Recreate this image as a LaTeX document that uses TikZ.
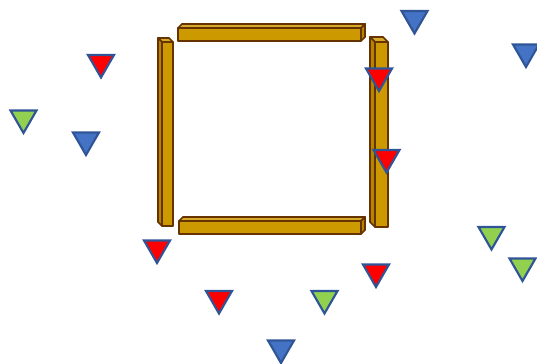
\documentclass[tikz,border=0pt]{standalone}
\usetikzlibrary{shapes.geometric}

\definecolor{barfill}{RGB}{204,153,0}
\definecolor{bartop}{RGB}{214,170,40}
\definecolor{barside}{RGB}{180,134,0}
\definecolor{barline}{RGB}{102,51,0}
\definecolor{triline}{RGB}{47,85,151}
\definecolor{triblue}{RGB}{68,114,196}
\definecolor{trired}{RGB}{255,0,0}
\definecolor{trigreen}{RGB}{146,208,80}

\tikzset{every picture/.style={line width=0.75pt}}
\tikzset{
  bar/.style={draw=barline, line width=1.3pt, line join=round},
  tri/.style={regular polygon, regular polygon sides=3, shape border rotate=180,
    minimum size=22.5pt, inner sep=0pt, draw=triline, line width=1.6pt},
  tri blue/.style={tri, fill=triblue},
  tri red/.style={tri, fill=trired},
  tri green/.style={tri, fill=trigreen}
}

\begin{document}
\begin{tikzpicture}[x=0.75pt,y=0.75pt,yscale=-1,xscale=1]
\useasboundingbox (0,0) rectangle (537,364);

%Shape: Cube top
\draw [bar, fill=barfill] (178,28) rectangle (361,41) ;
\draw [bar, fill=bartop] (178,28) -- (182,24) -- (365,24) -- (361,28) -- cycle ;
\draw [bar, fill=barside] (361,28) -- (365,24) -- (365,37) -- (361,41) -- cycle ;
%Shape: Cube bottom
\draw [bar, fill=barfill] (179,221) rectangle (361,234) ;
\draw [bar, fill=bartop] (179,221) -- (183,217) -- (365,217) -- (361,221) -- cycle ;
\draw [bar, fill=barside] (361,221) -- (365,217) -- (365,230) -- (361,234) -- cycle ;
%Shape: Cube left
\draw [bar, fill=barfill] (162,42) rectangle (173,226) ;
\draw [bar, fill=bartop] (162,42) -- (158,38) -- (169,38) -- (173,42) -- cycle ;
\draw [bar, fill=barside] (162,42) -- (158,38) -- (158,222) -- (162,226) -- cycle ;
%Shape: Cube right
\draw [bar, fill=barfill] (375,42) rectangle (388,227) ;
\draw [bar, fill=bartop] (375,42) -- (370,37) -- (383,37) -- (388,42) -- cycle ;
\draw [bar, fill=barside] (375,42) -- (370,37) -- (370,222) -- (375,227) -- cycle ;

%Shape: Triangle
\node [tri red] (r1) at (101,62.5) {};
\node [tri green] (g1) at (23.5,118) {};
\node [tri blue] (b1) at (86,140) {};
\node [tri blue] (b2) at (414.5,18.5) {};
\node [tri blue] (b3) at (526,52) {};
\node [tri red] (r2) at (379,76) {};
\node [tri red] (r3) at (386.5,157.5) {};
\node [tri green] (g2) at (491.5,234.5) {};
\node [tri green] (g3) at (522.5,266) {};
\node [tri red] (r4) at (376,272) {};
\node [tri red] (r5) at (157,248) {};
\node [tri red] (r6) at (219,298.5) {};
\node [tri green] (g4) at (324.5,298.5) {};
\node [tri blue] (b4) at (281,348) {};

\end{tikzpicture}
\end{document}
